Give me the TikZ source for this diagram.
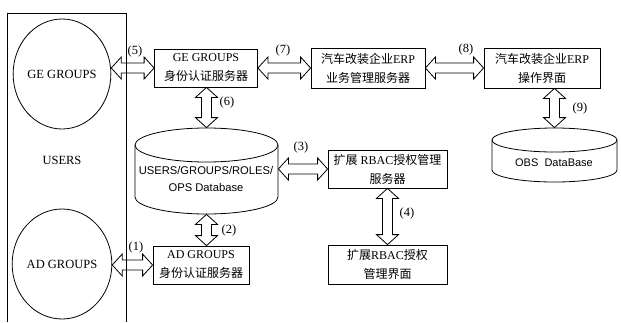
\documentclass[tikz,border=0pt]{standalone}
\usepackage{fontspec}
\setmainfont{Liberation Serif}
\newfontfamily\cjk{Noto Sans CJK SC}
\newfontfamily\arialf{Liberation Sans}
\usetikzlibrary{calc,shapes.geometric}
\tikzset{
  box/.style={draw, rectangle, align=center, inner sep=0pt, font=\fontsize{12}{19}\selectfont},
  grp/.style={draw, ellipse, minimum width=95pt, minimum height=110pt, inner sep=0pt, font=\fontsize{12.5}{14}\selectfont},
  lbl/.style={font=\fontsize{12.5}{14}\selectfont, inner sep=0pt},
  cyltext/.style={align=center, inner sep=0pt, font=\arialf\fontsize{11.2}{17}\selectfont},
  harrow/.style={to path={-- ($(\tikztostart)+(10,11)$) -- ($(\tikztostart)+(10,5)$)
     -- ($(\tikztotarget)+(-10,5)$) -- ($(\tikztotarget)+(-10,11)$) -- (\tikztotarget)
     -- ($(\tikztotarget)+(-10,-11)$) -- ($(\tikztotarget)+(-10,-5)$)
     -- ($(\tikztostart)+(10,-5)$) -- ($(\tikztostart)+(10,-11)$) -- cycle}},
  varrow/.style={to path={-- ($(\tikztostart)+(11,10)$) -- ($(\tikztostart)+(5,10)$)
     -- ($(\tikztotarget)+(5,-10)$) -- ($(\tikztotarget)+(11,-10)$) -- (\tikztotarget)
     -- ($(\tikztotarget)+(-11,-10)$) -- ($(\tikztotarget)+(-5,-10)$)
     -- ($(\tikztostart)+(-5,10)$) -- ($(\tikztostart)+(-11,10)$) -- cycle}},
}
\begin{document}
\begin{tikzpicture}[x=1pt,y=-1pt,line width=0.8pt]
\useasboundingbox (0,0) rectangle (621,322);

% USERS frame
\draw (7,322) -- (7,13) -- (126,13) -- (126,322);
\node[font=\fontsize{12.5}{14}\selectfont] (users) at (62,160) {USERS};
\node[grp] (ge) at (62,74) {GE GROUPS};
\node[grp] (ad) at (62,264) {AD GROUPS};

% boxes
\node[box, minimum width=103pt, minimum height=38pt] (geauth) at (206,68) {GE GROUPS\\{\cjk 身份认证服务器}};
\node[box, minimum width=114pt, minimum height=40pt] (erp) at (368,68) {{\cjk 汽车改装企业}ERP\\{\cjk 业务管理服务器}};
\node[box, minimum width=116pt, minimum height=40pt] (erpui) at (542,68) {{\cjk 汽车改装企业}ERP\\{\cjk 操作界面}};
\node[box, minimum width=119pt, minimum height=38pt] (rbac) at (387.5,169) {{\cjk 扩展} RBAC{\cjk 授权管理}\\{\cjk 服务器}};
\node[box, minimum width=119pt, minimum height=39pt] (rbacui) at (387.5,264.5) {{\cjk 扩展}RBAC{\cjk 授权}\\{\cjk 管理界面}};
\node[box, minimum width=96pt, minimum height=38pt] (adauth) at (201,265) {AD GROUPS\\{\cjk 身份认证服务器}};

% USERS database cylinder
\node[minimum width=143pt, minimum height=86pt, inner sep=0pt] (db) at (206.5,171) {};
\draw (206.5,145) ellipse[x radius=71.5, y radius=17];
\draw (135,145) -- (135,197) arc[start angle=180, end angle=0, x radius=71.5, y radius=17] -- (278,145);
\node[cyltext] (dbt) at (206,178.5) {USERS/GROUPS/ROLES/\\OPS Database};

% OBS database cylinder
\node[minimum width=125pt, minimum height=54pt, inner sep=0pt] (obs) at (554.5,155) {};
\draw (554.5,140) ellipse[x radius=62.5, y radius=12];
\draw (492,140) -- (492,170) arc[start angle=180, end angle=0, x radius=62.5, y radius=12] -- (617,140);
\node[cyltext, font=\arialf\fontsize{11}{13}\selectfont] (obst) at (554,163) {OBS\ \ DataBase};

% connector end points
\coordinate (g5) at (ge.east |- geauth.west);
\coordinate (a1) at (ad.east |- adauth.west);
\coordinate (d3) at (db.east |- rbac.west);
\coordinate (d6) at (geauth.south -| db.north);
\coordinate (d2) at (adauth.north -| db.south);
\coordinate (e9) at (erpui.south -| obs.north);

% block arrows
\draw[harrow] (g5) to (geauth.west);
\draw[harrow] (geauth.east) to (erp.west);
\draw[harrow] (erp.east) to (erpui.west);
\draw[harrow] (a1) to (adauth.west);
\draw[harrow] (d3) to (rbac.west);
\draw[varrow] (d6) to (db.north);
\draw[varrow] (db.south) to (d2);
\draw[varrow] (rbac.south) to (rbacui.north);
\draw[varrow] (e9) to (obs.north);

% labels
\node[lbl] (l1) at (136,247) {(1)};
\node[lbl] (l2) at (229,230) {(2)};
\node[lbl] (l3) at (301,147) {(3)};
\node[lbl] (l4) at (407,213) {(4)};
\node[lbl] (l5) at (135,51) {(5)};
\node[lbl] (l6) at (227,102) {(6)};
\node[lbl] (l7) at (283,50) {(7)};
\node[lbl] (l8) at (466,49) {(8)};
\node[lbl] (l9) at (580,108) {(9)};
\end{tikzpicture}
\end{document}
